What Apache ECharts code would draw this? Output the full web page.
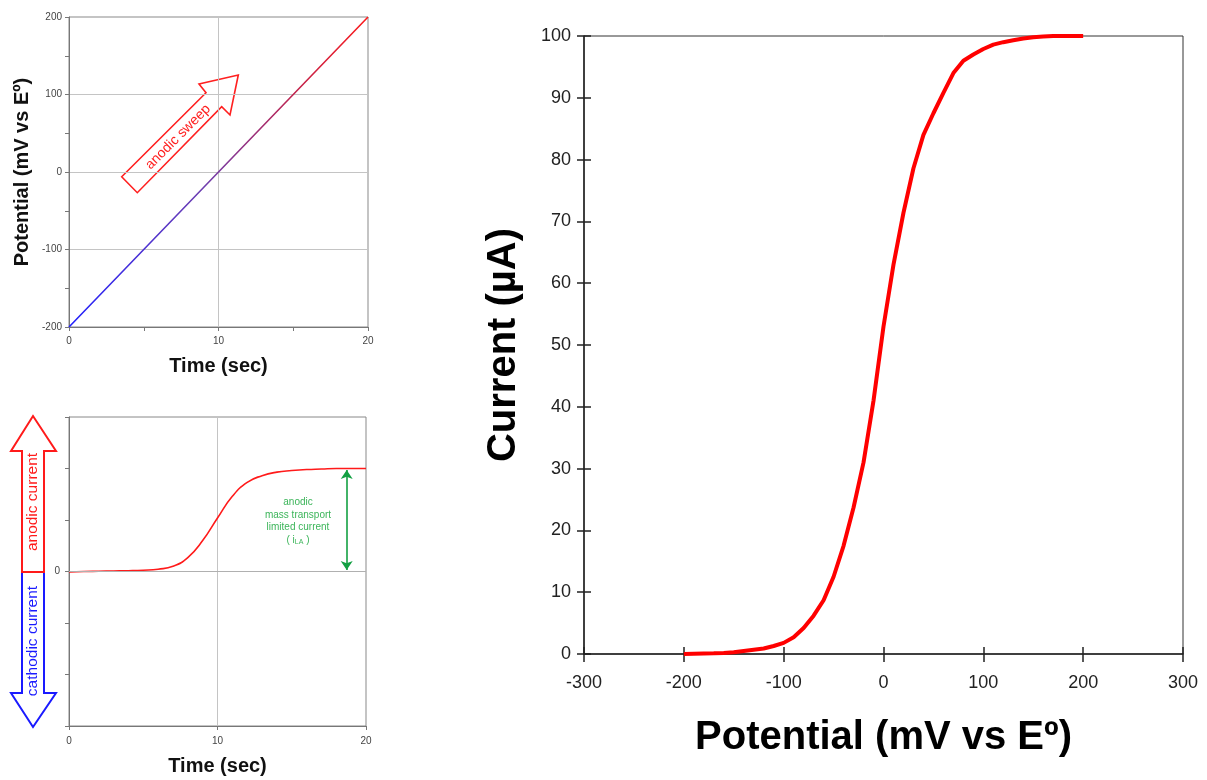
<!DOCTYPE html>
<html>
<head>
<meta charset="utf-8">
<script src="https://cdn.jsdelivr.net/npm/echarts@6/dist/echarts.min.js"></script>
<style>
  html, body { margin: 0; padding: 0; background: #fff; }
  #main { width: 1207px; height: 780px; }
</style>
</head>
<body>
<div id="main"></div>
<script>
// top-left: linear potential sweep
const sweepTime = [0, 5, 10, 15, 20];
const sweepPotential = [-200, -100, 0, 100, 200];

// bottom-left: current vs time (2 = limiting current)
const currentTime = [0, 1, 2, 3, 4, 5, 6, 7, 8, 9, 10, 11, 12, 13, 14, 15, 16, 17, 18, 19, 20];
const currentValue = [-0.01, 0, 0.005, 0.01, 0.015, 0.025, 0.045, 0.1, 0.27, 0.6, 1.04, 1.46, 1.73, 1.86, 1.93, 1.96, 1.98, 1.99, 2, 2, 2];

// right: current (uA) vs potential (mV)
const potential = [-200, -190, -180, -170, -160, -150, -140, -130, -120, -110, -100, -90, -80, -70, -60, -50, -40, -30, -20, -10,
  0, 10, 20, 30, 40, 50, 60, 70, 80, 90, 100, 110, 120, 130, 140, 150, 160, 170, 180, 190, 200];
const current = [0, 0.05, 0.1, 0.12, 0.18, 0.3, 0.5, 0.7, 0.9, 1.3, 1.8, 2.7, 4.2, 6.2, 8.7, 12.5, 17.5, 23.7, 31, 41,
  53, 63, 71.4, 78.6, 84, 87.5, 90.8, 94, 96, 97, 97.9, 98.6, 99, 99.3, 99.6, 99.8, 99.9, 100, 100, 100, 100];

const potentialTicks = [-300, 300, 100];
const currentTicks = [0, 100, 10];

const font = "'Liberation Sans', Arial, sans-serif";
const pair = (xs, ys) => xs.map((x, i) => [x, ys[i]]);

const chart = echarts.init(document.getElementById("main"));

const smallLabel = { color: "#444", fontSize: 10, fontFamily: font };
const bigLabel = { color: "#222", fontSize: 18, fontFamily: font };

let option = {
  animation: false,
  backgroundColor: "#fff",
  grid: [
    { left: 69, top: 17, width: 299, height: 310, show: true, borderColor: "#888", borderWidth: 1 },
    { left: 69, top: 417, width: 297, height: 309, show: true, borderColor: "#888", borderWidth: 1 },
    { left: 584, top: 36, width: 599, height: 618, show: true, borderColor: "#333", borderWidth: 1 }
  ],
  xAxis: [
    {
      gridIndex: 0, type: "value", min: 0, max: 20, interval: 10,
      name: "Time (sec)", nameLocation: "middle", nameGap: 29,
      nameTextStyle: { fontSize: 20, fontWeight: "bold", color: "#111", fontFamily: font },
      axisLine: { onZero: false, lineStyle: { color: "#777" } },
      axisTick: { length: 4, lineStyle: { color: "#777" } },
      minorTick: { show: true, splitNumber: 2, length: 4, lineStyle: { color: "#777" } },
      axisLabel: Object.assign({ margin: 9 }, smallLabel),
      splitLine: { lineStyle: { color: "#c4c4c4" } }
    },
    {
      gridIndex: 1, type: "value", min: 0, max: 20, interval: 10,
      name: "Time (sec)", nameLocation: "middle", nameGap: 30,
      nameTextStyle: { fontSize: 20, fontWeight: "bold", color: "#111", fontFamily: font },
      axisLine: { onZero: false, lineStyle: { color: "#777" } },
      axisTick: { length: 4, lineStyle: { color: "#777" } },
      axisLabel: Object.assign({ margin: 10 }, smallLabel),
      splitLine: { lineStyle: { color: "#c4c4c4" } }
    },
    {
      gridIndex: 2, type: "value", min: potentialTicks[0], max: potentialTicks[1], interval: potentialTicks[2],
      name: "Potential (mV vs E\u00ba)", nameLocation: "middle", nameGap: 64,
      nameTextStyle: { fontSize: 40, fontWeight: "bold", color: "#000", fontFamily: font },
      axisLine: { onZero: false, lineStyle: { color: "#222", width: 1.5 } },
      axisTick: { length: 8, lineStyle: { color: "#222", width: 1.5 } },
      axisLabel: Object.assign({ margin: 20 }, bigLabel),
      splitLine: { show: false }
    },
    {
      // inner half of the crossing ticks
      gridIndex: 2, type: "value", min: potentialTicks[0], max: potentialTicks[1], interval: potentialTicks[2],
      position: "bottom",
      axisLine: { show: false, onZero: false },
      axisTick: { inside: true, length: 7, lineStyle: { color: "#222", width: 1.5 } },
      axisLabel: { show: false },
      splitLine: { show: false }
    }
  ],
  yAxis: [
    {
      gridIndex: 0, type: "value", min: -200, max: 200, interval: 100,
      name: "Potential (mV vs E\u00ba)", nameLocation: "middle", nameGap: 37,
      nameTextStyle: { fontSize: 20, fontWeight: "bold", color: "#111", fontFamily: font },
      axisLine: { onZero: false, lineStyle: { color: "#777" } },
      axisTick: { length: 4, lineStyle: { color: "#777" } },
      minorTick: { show: true, splitNumber: 2, length: 4, lineStyle: { color: "#777" } },
      axisLabel: Object.assign({ margin: 7 }, smallLabel),
      splitLine: { lineStyle: { color: "#c4c4c4" } }
    },
    {
      gridIndex: 1, type: "value", min: -3, max: 3, interval: 1,
      axisLine: { onZero: false, lineStyle: { color: "#777" } },
      axisTick: { length: 4, lineStyle: { color: "#777" } },
      axisLabel: Object.assign({ margin: 9, formatter: v => (v === 0 ? "0" : "") }, smallLabel),
      splitLine: { show: false }
    },
    {
      gridIndex: 2, type: "value", min: currentTicks[0], max: currentTicks[1], interval: currentTicks[2],
      name: "Current (\u00b5A)", nameLocation: "middle", nameGap: 60,
      nameTextStyle: { fontSize: 40, fontWeight: "bold", color: "#000", fontFamily: font },
      axisLine: { onZero: false, lineStyle: { color: "#222", width: 1.5 } },
      axisTick: { length: 7, lineStyle: { color: "#222", width: 1.5 } },
      axisLabel: Object.assign({ margin: 13 }, bigLabel),
      splitLine: { show: false }
    },
    {
      gridIndex: 2, type: "value", min: currentTicks[0], max: currentTicks[1], interval: currentTicks[2],
      position: "left",
      axisLine: { show: false, onZero: false },
      axisTick: { inside: true, length: 7, lineStyle: { color: "#222", width: 1.5 } },
      axisLabel: { show: false },
      splitLine: { show: false }
    }
  ],
  series: [
    {
      type: "line", xAxisIndex: 0, yAxisIndex: 0, symbol: "none",
      data: pair(sweepTime, sweepPotential),
      lineStyle: {
        width: 1.6,
        color: {
          type: "linear", x: 0, y: 1, x2: 1, y2: 0,
          colorStops: [
            { offset: 0, color: "#2020ff" },
            { offset: 0.45, color: "#6e3fb0" },
            { offset: 0.75, color: "#c0244e" },
            { offset: 1, color: "#ff1a1a" }
          ]
        }
      }
    },
    {
      type: "line", xAxisIndex: 1, yAxisIndex: 1, symbol: "none", smooth: true,
      data: pair(currentTime, currentValue),
      lineStyle: { width: 1.6, color: "#ff1a1a" },
      markLine: {
        silent: true, animation: false,
        symbolSize: 9,
        label: { show: false },
        lineStyle: { type: "solid" },
        data: [
          [{ coord: [0, 0], symbol: "none", lineStyle: { color: "#b0b0b0", width: 1 } }, { coord: [20, 0], symbol: "none" }],
          [{ coord: [18.7, 0.03], symbol: "arrow", lineStyle: { color: "#13a043", width: 1.6 }, itemStyle: { color: "#13a043" } },
           { coord: [18.7, 1.97], symbol: "arrow" }]
        ]
      }
    },
    {
      type: "line", xAxisIndex: 2, yAxisIndex: 2, symbol: "none",
      data: pair(potential, current),
      lineStyle: { width: 4, color: "#ff0000" }
    }
  ],
  graphic: [
    // anodic sweep block arrow
    {
      type: "polygon",
      shape: { points: [[121.7, 176.7], [206, 92.7], [199, 84], [238.3, 75], [230, 115], [221.7, 106.7], [137.3, 192.7]] },
      style: { fill: "#fff", stroke: "#ff2020", lineWidth: 1.6 }
    },
    {
      type: "text", x: 178, y: 137, rotation: Math.PI / 4,
      style: { text: "anodic sweep", fill: "#ff2020", fontSize: 14, fontFamily: font, align: "center", verticalAlign: "middle" }
    },
    // cathodic / anodic current arrows
    {
      type: "polygon",
      shape: { points: [[22, 572], [44, 572], [44, 693], [56, 693], [33, 727], [11, 693], [22, 693]] },
      style: { fill: "#fff", stroke: "#1a1aff", lineWidth: 2 }
    },
    {
      type: "polygon",
      shape: { points: [[22, 572], [22, 451], [11, 451], [33, 416], [56, 451], [44, 451], [44, 572]] },
      style: { fill: "#fff", stroke: "#ff1a1a", lineWidth: 2 }
    },
    {
      type: "text", x: 33, y: 502, rotation: Math.PI / 2,
      style: { text: "anodic current", fill: "#ff1a1a", fontSize: 15.5, fontFamily: font, align: "center", verticalAlign: "middle" }
    },
    {
      type: "text", x: 33, y: 641, rotation: Math.PI / 2,
      style: { text: "cathodic current", fill: "#1a1aff", fontSize: 15.5, fontFamily: font, align: "center", verticalAlign: "middle" }
    },
    // limiting current note
    {
      type: "text", x: 298, y: 521,
      style: {
        text: "anodic\nmass transport\nlimited current\n( i{sub|LA} )",
        fill: "#3cb55a", fontSize: 10, lineHeight: 12.5, fontFamily: font,
        align: "center", verticalAlign: "middle",
        rich: { sub: { fontSize: 7, fill: "#3cb55a", padding: [5, 0, 0, 0], fontFamily: font } }
      }
    }
  ]
};

chart.setOption(option);
</script>
</body>
</html>
